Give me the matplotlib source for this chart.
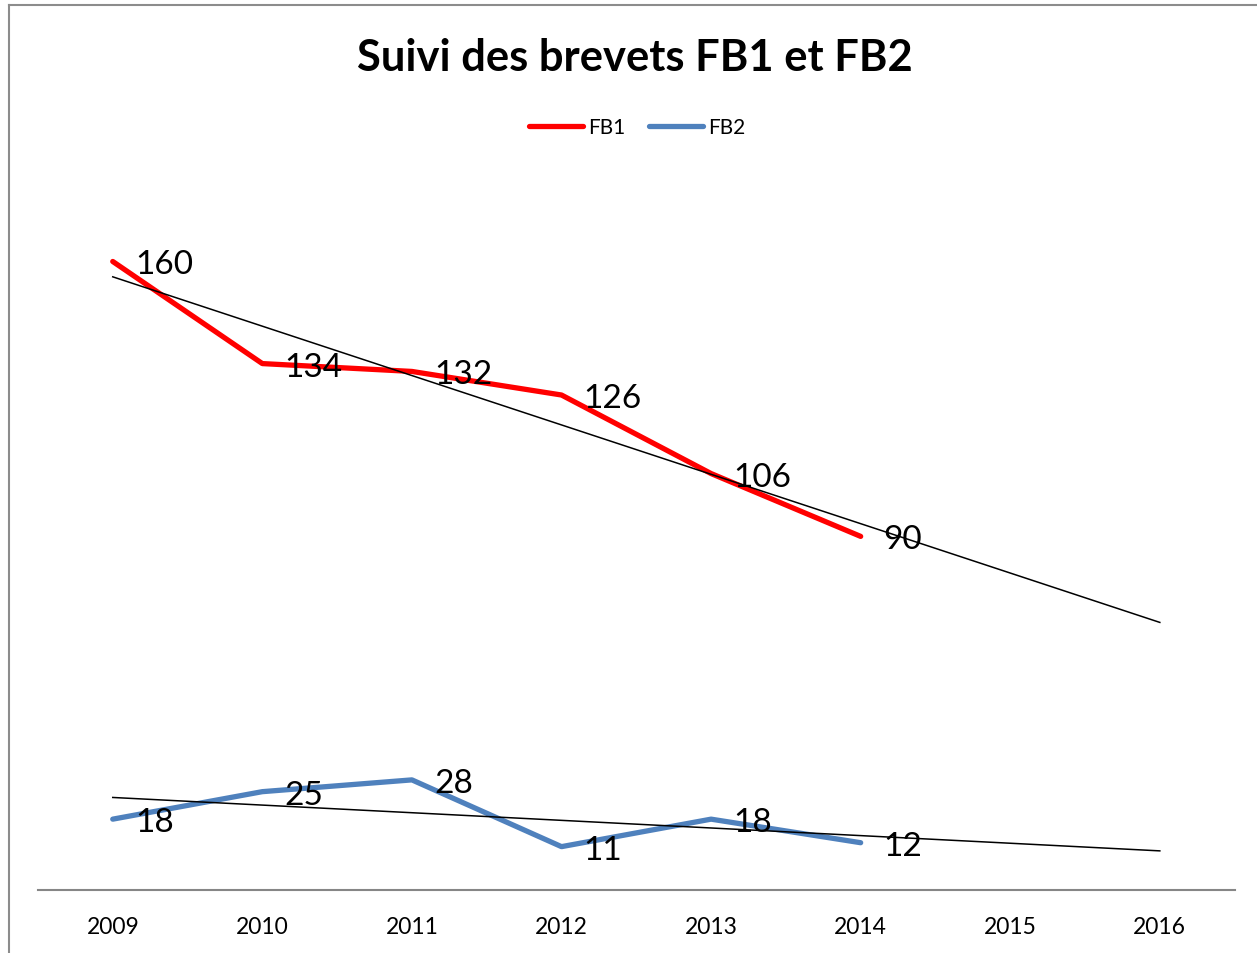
import matplotlib.pyplot as plt
from matplotlib.lines import Line2D
import numpy as np

plt.rcParams['font.family'] = ['Lato', 'DejaVu Sans']

years = ['2009', '2010', '2011', '2012', '2013', '2014', '2015', '2016']
fb1 = [160, 134, 132, 126, 106, 90]
fb2 = [18, 25, 28, 11, 18, 12]

red = '#FF0000'
blue = '#4F81BD'

fig = plt.figure(figsize=(12.57, 9.54), dpi=100)
ax = fig.add_axes([0.0302, 0.0662, 0.952, 0.741])

x_all = np.arange(len(years))
x = np.arange(len(fb1))

ax.plot(x, fb1, color=red, lw=3.8, solid_capstyle='round', solid_joinstyle='round', label='FB1', zorder=3)
ax.plot(x, fb2, color=blue, lw=3.8, solid_capstyle='round', solid_joinstyle='round', label='FB2', zorder=3)

# linear trendlines extended forward over 2 periods
for serie in (fb1, fb2):
    a, b = np.polyfit(x, serie, 1)
    ax.plot(x_all, a * x_all + b, color='black', lw=1.1, zorder=4)

# data labels on the right of each point
for serie in (fb1, fb2):
    for xi, v in zip(x, serie):
        ax.annotate(str(v), (xi, v), xytext=(16, 0), textcoords='offset points',
                    ha='left', va='center_baseline', fontsize=24, zorder=5)

ax.set_xlim(-0.5, len(years) - 0.5)
ax.set_ylim(0, 180)
ax.set_xticks(x_all)
ax.set_xticklabels(years, fontsize=16.5)
ax.set_yticks([])
ax.tick_params(axis='x', length=0, pad=19)
for s in ['top', 'right', 'left']:
    ax.spines[s].set_visible(False)
ax.spines['bottom'].set_color('#868686')
ax.spines['bottom'].set_linewidth(1.5)

fig.text(0.505, 0.939, 'Suivi des brevets FB1 et FB2', ha='center', va='center',
         fontsize=31.3, fontweight='bold')

fig.legend(loc='center', bbox_to_anchor=(0.507, 0.866), ncol=2, frameon=False,
           fontsize=15, handlelength=2.6, handletextpad=0.25, columnspacing=1.1)

# chart frame (left and top edges visible)
fig.add_artist(Line2D([0.0068, 0.0068], [0, 0.994], color='#8c8c8c', lw=1.5))
fig.add_artist(Line2D([0.0068, 1], [0.994, 0.994], color='#8c8c8c', lw=1.5))

fig.savefig('out.png', dpi=100)
